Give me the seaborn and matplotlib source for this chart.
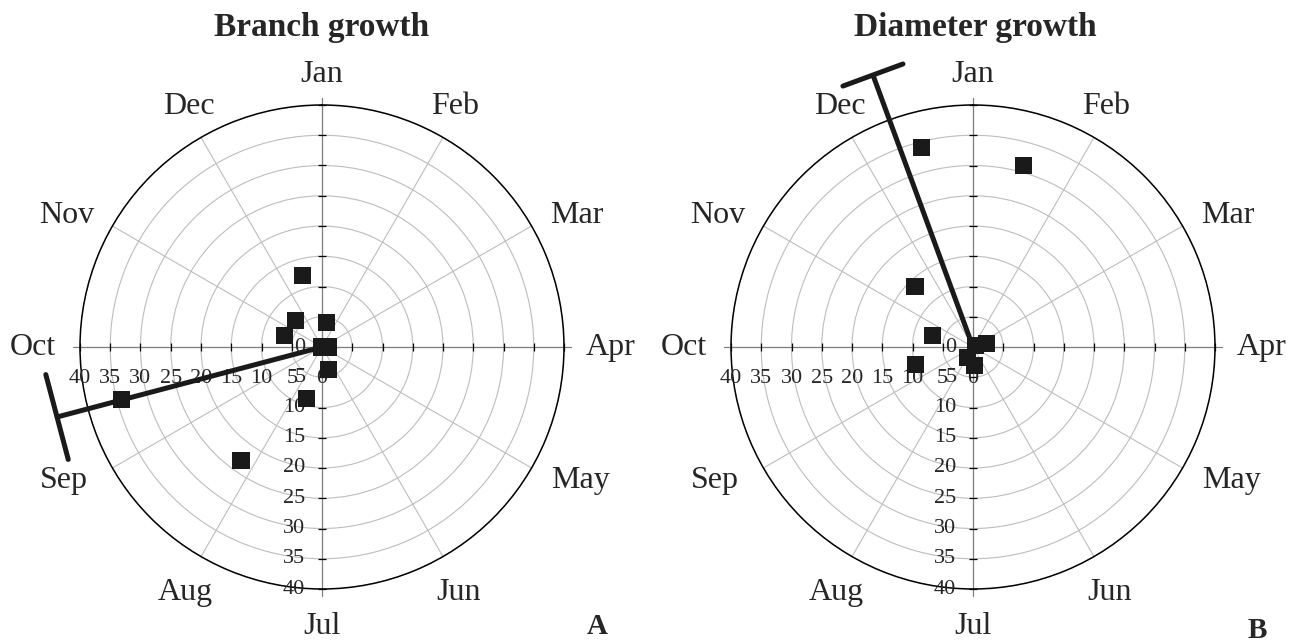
import numpy as np
import pandas as pd
import matplotlib
matplotlib.use("Agg")
import matplotlib.pyplot as plt
import seaborn as sns

sns.set_style("white")
plt.rcParams['font.family'] = ['Liberation Serif', 'DejaVu Serif']

# ── data (angle in degrees clockwise from Jan, radius 0-40) ──────────
MONTHS = ["Jan", "Feb", "Mar", "Apr", "May", "Jun",
          "Jul", "Aug", "Sep", "Oct", "Nov", "Dec"]
RADIAL_TICKS = [0, 5, 10, 15, 20, 25, 30, 35, 40]

branch_angle = [255.2, 215.6, 344.3, 315.0, 286.6, 11.3, 0.0, 90.0, 164.7, 196.4]
branch_r     = [34.2, 23.0, 12.2, 6.3, 6.4, 4.2, 0.0, 1.0, 3.8, 8.8]

diameter_angle = [345.6, 15.5, 316.0, 285.4, 253.5, 73.0, 63.0, 206.6, 173.7]
diameter_r     = [34.0, 31.1, 13.8, 6.9, 9.9, 2.25, 0.4, 1.85, 3.0]

# mean vectors: direction, length, angular half-width of the end bar
branch_mean   = (255.2, 45.3, 9.1)
diameter_mean = (339.8, 47.9, 6.3)

PANELS = [
    ("Branch growth",   "A", branch_angle,   branch_r,   branch_mean),
    ("Diameter growth", "B", diameter_angle, diameter_r, diameter_mean),
]

RMAX = 40
R_PX = 242.0
# month label placement: distance (px) and angle nudge toward the horizontal,
# keyed by the angular offset from the vertical
LABEL_DIST  = {0: 272, 30: 275, 60: 287, 90: 289}
LABEL_NUDGE = {0: 0.0, 30: -1.0, 60: 2.7, 90: 0.0}

fig = plt.figure(figsize=(13.01, 6.44), dpi=100)
boxes = [[80 / 1301, 55 / 644, 484 / 1301, 484 / 644],
         [731 / 1301, 55 / 644, 484 / 1301, 484 / 644]]
letter_pos = [(597 / 1301, 1 - 627 / 644), (1257 / 1301, 1 - 630 / 644)]
title_x = [322 / 1301, 975 / 1301]

for i, (title, letter, ang, rad, mean) in enumerate(PANELS):
    ax = fig.add_axes(boxes[i], projection="polar")
    ax.set_theta_zero_location("N")
    ax.set_theta_direction(-1)
    ax.set_ylim(0, RMAX)
    ax.set_yticks(RADIAL_TICKS[1:])
    ax.set_yticklabels([])
    ax.set_xticks(np.deg2rad(np.arange(0, 360, 30)))
    ax.set_xticklabels([])
    ax.tick_params(length=0)
    ax.grid(True, color="#bdbdbd", linewidth=0.8)
    ax.spines["polar"].set_color("black")
    ax.spines["polar"].set_linewidth(1.1)

    # main axes (diameters) with tick marks
    for a in [0, 90, 180, 270]:
        ax.plot([np.deg2rad(a)] * 2, [0, RMAX + 1.2], color="#808080",
                lw=0.9, clip_on=False, zorder=2)
    tr = np.array(RADIAL_TICKS[1:], dtype=float)
    for a in [90, 270]:
        ax.plot(np.full(tr.size, np.deg2rad(a)), tr, ls="none", marker="|",
                ms=6, mew=0.9, color="black", clip_on=False, zorder=2)
    for a in [0, 180]:
        ax.plot(np.full(tr.size, np.deg2rad(a)), tr, ls="none", marker="_",
                ms=6, mew=0.9, color="black", clip_on=False, zorder=2)

    # radial labels: below the Oct axis, left of the Jul axis
    for v in RADIAL_TICKS:
        ax.annotate(str(v), (np.deg2rad(270), v), xytext=(0, -22.5),
                    textcoords="offset points", ha="center", va="center",
                    fontsize=16, annotation_clip=False)
        ax.annotate(str(v), (np.deg2rad(180), v), xytext=(-12, 0),
                    textcoords="offset points", ha="right", va="center",
                    fontsize=16, annotation_clip=False)

    # month labels
    for k, m in enumerate(MONTHS):
        a = k * 30
        off = min(a % 180, 180 - a % 180)
        s = 1 if (a % 180) < 90 else -1
        t = np.deg2rad(a + s * LABEL_NUDGE[off])
        d = LABEL_DIST[off] + 7 * max(0.0, -np.cos(np.deg2rad(a)))
        ax.text(t, RMAX * d / R_PX, m, ha="center", va="center", fontsize=23)

    # observations
    df = pd.DataFrame({"theta": np.deg2rad(ang), "r": rad})
    sns.scatterplot(data=df, x="theta", y="r", ax=ax, marker="s", s=150,
                    color="#1a1a1a", edgecolor="none", zorder=4, clip_on=False)
    ax.set_xlabel("")
    ax.set_ylabel("")

    # mean vector with end bar
    ma, ml, mw = mean
    ax.plot([np.deg2rad(ma)] * 2, [0, ml], color="#1a1a1a", lw=3.6,
            solid_capstyle="butt", clip_on=False, zorder=5)
    rb = ml / np.cos(np.deg2rad(mw))
    ax.plot(np.deg2rad([ma - mw, ma + mw]), [rb, rb], color="#1a1a1a", lw=3.6,
            solid_capstyle="round", clip_on=False, zorder=5)

    fig.text(title_x[i], 1 - 36 / 644, title, ha="center", va="baseline",
             fontsize=24, fontweight="bold")
    fig.text(*letter_pos[i], letter, ha="center", va="center",
             fontsize=21, fontweight="bold")

fig.savefig("out.png", dpi=100)
